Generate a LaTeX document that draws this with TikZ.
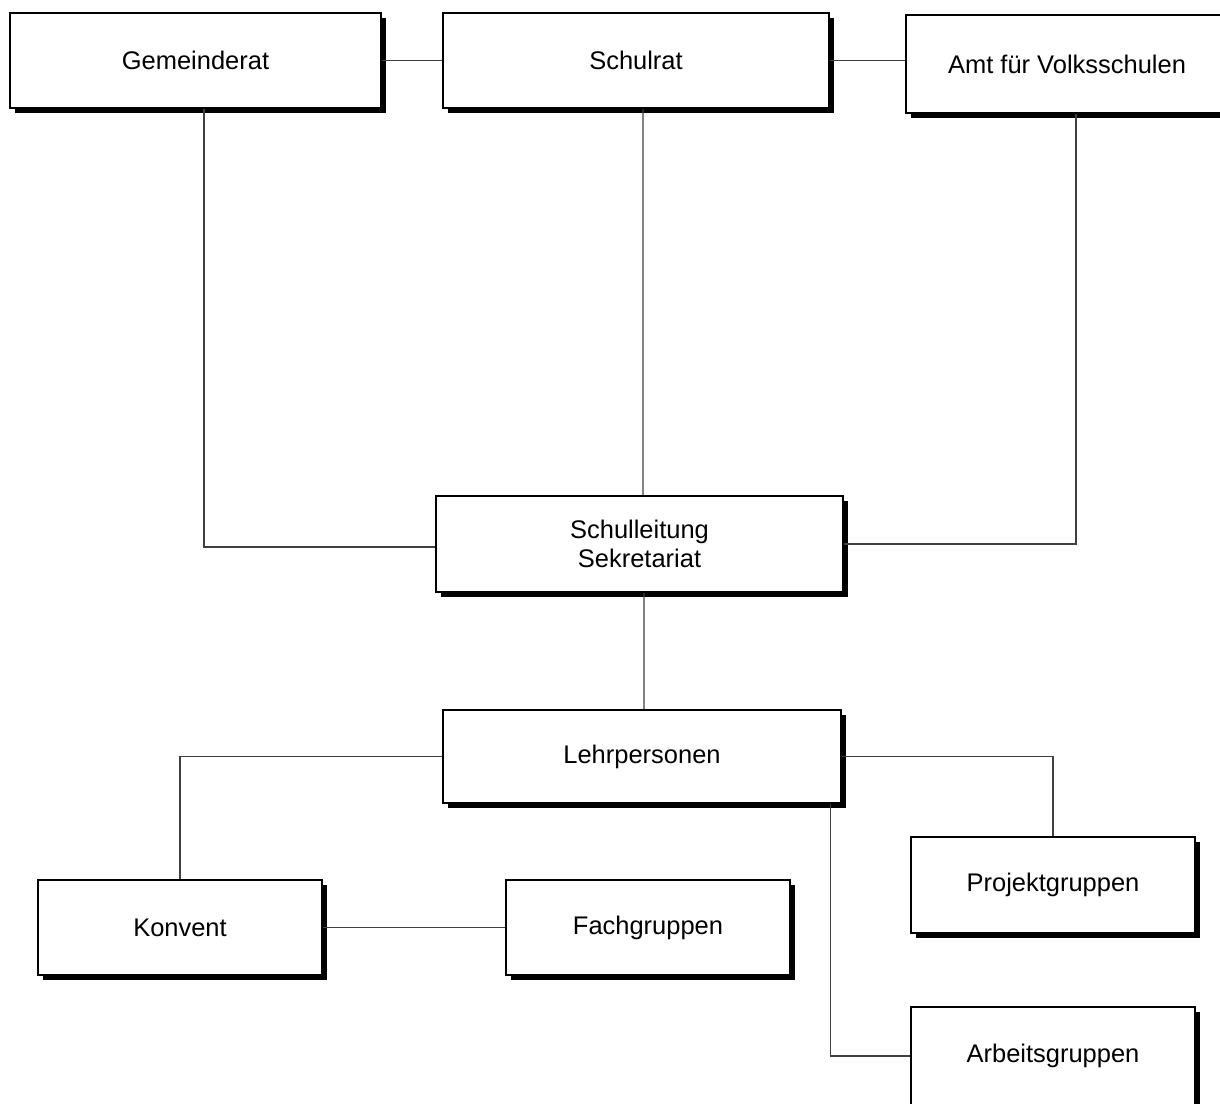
\documentclass[tikz,border=0pt]{standalone}
\usepackage{fontspec}
\setmainfont{Liberation Sans}
\usetikzlibrary{shadows}
\tikzset{
	orgbox/.style={draw=black, line width=1.4pt, fill=white, align=center,
		font=\fontsize{14.5}{16.5}\selectfont,
		drop shadow={shadow xshift=2.6pt, shadow yshift=-2.6pt, fill=black, opacity=1}},
	link/.style={line width=0.6pt, draw=black!75}
}
\begin{document}
\begin{tikzpicture}[x=0.02cm, y=-0.02cm]
	\useasboundingbox (0,0) rectangle (1220,1104);
	\clip (0,0) rectangle (1220,1104);
	
	% obere Ebene
	\node[orgbox, minimum width=7.42cm, minimum height=1.9cm]  (ger)  at (195.5,60.5) {Gemeinderat};
	\node[orgbox, minimum width=7.72cm, minimum height=1.9cm]  (srat) at (636,60.5)   {Schulrat};
	\node[orgbox, minimum width=6.44cm, minimum height=1.96cm] (amt)  at (1067,64)    {Amt für Volksschulen};
	
	% Schulleitung
	\node[orgbox, minimum width=8.14cm, minimum height=1.92cm] (sl) at (639.5,544) {Schulleitung\\Sekretariat};
	\node[orgbox, minimum width=7.96cm, minimum height=1.86cm] (lp) at (642,756.5) {Lehrpersonen};
	
	% Gruppen
	\node[orgbox, minimum width=5.68cm, minimum height=1.9cm]  (kon)  at (180,927.5)  {Konvent};
	\node[orgbox, minimum width=5.68cm, minimum height=1.9cm]  (fach) at (648,927.5)  {Fachgruppen};
	\node[orgbox, minimum width=5.68cm, minimum height=1.92cm] (proj) at (1053,885)   {Projektgruppen};
	\node[orgbox, minimum width=5.68cm, minimum height=1.96cm] (arb)  at (1053,1056)  {Arbeitsgruppen};
	
	\draw[link] (ger.east) -- (srat.west);
	\draw[link] (srat.east) -- (srat.east -| amt.west);
	\draw[link] ([xshift=0.17cm]ger.south) |- ([yshift=-0.06cm]sl.west);
	\draw[link] ([xshift=0.14cm]srat.south) -- ([xshift=0.07cm]sl.north);
	\draw[link] ([xshift=0.18cm]amt.south) |- (sl.east);
	\draw[link] ([xshift=0.09cm]sl.south) -- ([xshift=0.04cm]lp.north);
	\draw[link] (lp.west) -| (kon.north);
	\draw[link] (lp.east) -| (proj.north);
	\draw[link] ([xshift=-0.24cm]lp.south east) |- (arb.west);
	\draw[link] (kon.east) -- (fach.west);
\end{tikzpicture}
\end{document}
